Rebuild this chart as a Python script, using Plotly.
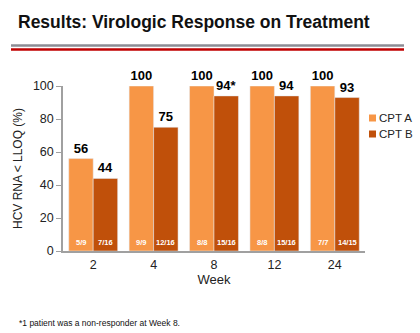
import plotly.graph_objects as go

weeks = ["2", "4", "8", "12", "24"]
cpt_a = [56, 100, 100, 100, 100]
cpt_b = [44, 75, 94, 94, 93]
cpt_a_labels = ["56", "100", "100", "100", "100"]
cpt_b_labels = ["44", "75", "94*", "94", "93"]
cpt_a_frac = ["5/9", "9/9", "8/8", "8/8", "7/7"]
cpt_b_frac = ["7/16", "12/16", "15/16", "15/16", "14/15"]
series_names = ["CPT A", "CPT B"]

COL_A = "#F79646"
COL_B = "#C0500A"
FONT = "Arial, Liberation Sans, sans-serif"

W, H = 420, 333
L, R, T, B = 63, 55, 86, 82
PW, PH = W - L - R, H - T - B
BARGAP = 0.19


def px_x(px):
    return (px - L) / PW


def px_y(py):
    return (H - B - py) / PH


fig = go.Figure()
fig.add_trace(go.Bar(x=weeks, y=cpt_a, name=series_names[0], marker_color=COL_A,
                     text=cpt_a_labels, textposition="outside", cliponaxis=False,
                     textfont=dict(family=FONT, size=13, color="black", weight="bold")))
fig.add_trace(go.Bar(x=weeks, y=cpt_b, name=series_names[1], marker_color=COL_B,
                     text=cpt_b_labels, textposition="outside", cliponaxis=False,
                     textfont=dict(family=FONT, size=13, color="black", weight="bold")))

bar_px = (1 - BARGAP) / 2 * PW / len(weeks)
annotations = []
for i, w in enumerate(weeks):
    for frac, sh in [(cpt_a_frac[i], -bar_px / 2), (cpt_b_frac[i], bar_px / 2)]:
        annotations.append(dict(x=i, y=0, xref="x", yref="y", text=frac, showarrow=False,
                                xshift=sh, yshift=2, yanchor="bottom",
                                font=dict(family=FONT, size=7.5, color="white", weight="bold")))

annotations.append(dict(x=px_x(16), y=px_y(22), xref="paper", yref="paper",
                        xanchor="left", yanchor="middle", showarrow=False,
                        text="<b>Results: Virologic Response on Treatment</b>",
                        font=dict(family=FONT, size=17.5, color="#111111")))
annotations.append(dict(x=px_x(17), y=px_y(323), xref="paper", yref="paper",
                        xanchor="left", yanchor="middle", showarrow=False,
                        text="*1 patient was a non-responder at Week 8.",
                        font=dict(family=FONT, size=8.5, color="#111111")))

shapes = [
    dict(type="line", xref="paper", yref="paper", x0=px_x(11), x1=px_x(404),
         y0=px_y(45.5), y1=px_y(45.5), line=dict(color="#8C8C94", width=2.5)),
    dict(type="line", xref="paper", yref="paper", x0=px_x(11), x1=px_x(404),
         y0=px_y(49.5), y1=px_y(49.5), line=dict(color="#C00000", width=2.5)),
]

# manual legend (small squares + labels)
for k, (name, col) in enumerate(zip(series_names, [COL_A, COL_B])):
    cy = 118 + 16 * k
    shapes.append(dict(type="rect", xref="paper", yref="paper",
                       x0=px_x(369), x1=px_x(376), y0=px_y(cy - 3.5), y1=px_y(cy + 3.5),
                       fillcolor=col, line=dict(width=0)))
    annotations.append(dict(x=px_x(377), y=px_y(cy), xref="paper", yref="paper",
                            xanchor="left", yanchor="middle", showarrow=False,
                            text=name, font=dict(family=FONT, size=11.5, color="#222222")))

fig.update_layout(
    width=W, height=H,
    margin=dict(l=L, r=R, t=T, b=B, autoexpand=False),
    paper_bgcolor="white", plot_bgcolor="white",
    barmode="group", bargap=BARGAP, bargroupgap=0,
    font=dict(family=FONT, size=12, color="#222222"),
    showlegend=False,
    annotations=annotations, shapes=shapes,
    xaxis=dict(type="category", categoryorder="array", categoryarray=weeks,
               range=[-0.5, len(weeks) - 0.5],
               showline=True, linecolor="#A0A0A0", linewidth=1.5,
               ticks="", showgrid=False, ticklabelstandoff=1,
               tickfont=dict(family=FONT, size=12.5, color="#222222"),
               title=dict(text="Week", standoff=4,
                          font=dict(family=FONT, size=13, color="#222222"))),
    yaxis=dict(range=[0, 100], showline=True, linecolor="#A0A0A0", linewidth=1.5,
               ticks="outside", ticklen=5, tickcolor="#A0A0A0", tickwidth=1,
               dtick=20, showgrid=False, zeroline=False,
               tickfont=dict(family=FONT, size=12.5, color="#222222"),
               title=dict(text="HCV RNA < LLOQ (%)", standoff=8,
                          font=dict(family=FONT, size=12, color="#222222"))),
)

fig.write_html("out.html")
